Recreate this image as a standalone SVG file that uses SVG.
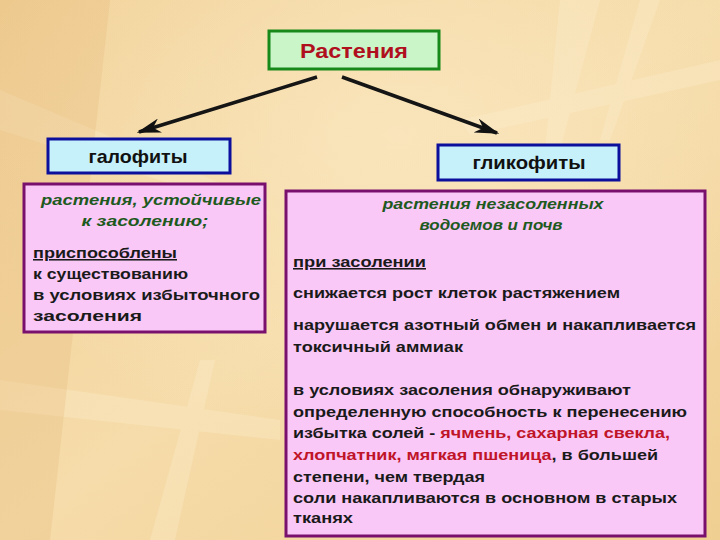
<svg xmlns="http://www.w3.org/2000/svg" width="720" height="540" viewBox="0 0 720 540">
<defs>
<linearGradient id="bg" x1="0" y1="0" x2="1" y2="1">
<stop offset="0" stop-color="#f1d197"/>
<stop offset="0.5" stop-color="#f6dcaa"/>
<stop offset="1" stop-color="#f0cf92"/>
</linearGradient>
<radialGradient id="glow" cx="0.55" cy="0.25" r="0.6">
<stop offset="0" stop-color="#fbe9c4" stop-opacity="0.7"/>
<stop offset="1" stop-color="#fbe9c4" stop-opacity="0"/>
</radialGradient>
<marker id="ah" viewBox="0 0 20 12" refX="18" refY="6" markerWidth="7" markerHeight="4.2" orient="auto" markerUnits="strokeWidth">
<path d="M0,0 L20,6 L0,12 L6,6 Z" fill="#111"/>
</marker>
<style>
.conn{stroke:#151515;stroke-width:3.5;fill:none}
.t{font-family:"Liberation Sans",Arial,sans-serif;font-weight:bold;font-size:15.5px;fill:#1a1a1a}
.it{font-family:"Liberation Sans",Arial,sans-serif;font-weight:bold;font-style:italic;font-size:15px;fill:#1e5a1e}
.red{fill:#c01428}
.title{font-family:"Liberation Sans",Arial,sans-serif;font-weight:bold;fill:#111}
.pink{fill:#f9c8f7;stroke:#7a106e;stroke-width:3}
.blue{fill:#c6f1fa;stroke:#0b0f9c;stroke-width:3}
</style>
</defs>
<rect width="720" height="540" fill="url(#bg)"/>
<rect width="720" height="540" fill="url(#glow)"/>
<g fill="#fff6df" opacity="0.22">
<polygon points="0,90 260,200 270,215 0,130"/>
<polygon points="560,0 600,0 560,150 545,150"/>
<polygon points="640,0 660,0 610,140 600,140"/>
<polygon points="460,120 720,60 720,80 470,135"/>
<polygon points="150,540 200,360 215,360 175,540"/>
<polygon points="0,380 280,420 280,440 0,410"/>
</g>
<g fill="#e2b574" opacity="0.25">
<polygon points="0,0 110,0 50,540 0,540"/>
</g>

<g id="connectors">
<line class="conn" x1="317" y1="77" x2="139" y2="132" marker-end="url(#ah)"/>
<line class="conn" x1="342" y1="77" x2="497" y2="133" marker-end="url(#ah)"/>
</g>

<g id="plants">
<rect x="269" y="31" width="170" height="38" fill="#c9f5c9" stroke="#17891a" stroke-width="3"/>
<text class="title" x="354" y="58" font-size="21" style="fill:#b0101e" text-anchor="middle" textLength="108" lengthAdjust="spacingAndGlyphs">Растения</text>
</g>

<g id="halophytes">
<rect class="blue" x="48" y="139" width="182" height="34"/>
<text class="title" x="138" y="163" font-size="19" text-anchor="middle" textLength="99" lengthAdjust="spacingAndGlyphs">галофиты</text>
</g>

<g id="glycophytes">
<rect class="blue" x="438" y="145" width="181" height="35"/>
<text class="title" x="529" y="169" font-size="19" text-anchor="middle" textLength="113" lengthAdjust="spacingAndGlyphs">гликофиты</text>
</g>

<g id="halophytes-desc">
<rect class="pink" x="24" y="184" width="241" height="148"/>
<text class="it" x="151" y="205" text-anchor="middle" textLength="220" lengthAdjust="spacingAndGlyphs">растения, устойчивые</text>
<text class="it" x="145" y="226" text-anchor="middle" textLength="127" lengthAdjust="spacingAndGlyphs">к засолению;</text>
<text class="t" x="33" y="258" text-decoration="underline" textLength="144" lengthAdjust="spacingAndGlyphs">приспособлены</text>
<text class="t" x="33" y="279" textLength="155" lengthAdjust="spacingAndGlyphs">к существованию</text>
<text class="t" x="33" y="300" textLength="227" lengthAdjust="spacingAndGlyphs">в условиях избыточного</text>
<text class="t" x="33" y="321" textLength="109" lengthAdjust="spacingAndGlyphs">засоления</text>
</g>

<g id="glycophytes-desc">
<rect class="pink" x="286" y="191" width="419" height="345"/>
<text class="it" x="493" y="209" text-anchor="middle" textLength="221" lengthAdjust="spacingAndGlyphs">растения незасоленных</text>
<text class="it" x="491" y="230" text-anchor="middle" textLength="143" lengthAdjust="spacingAndGlyphs">водоемов и почв</text>
<text class="t" x="293" y="267" text-decoration="underline" textLength="133" lengthAdjust="spacingAndGlyphs">при засолении</text>
<text class="t" x="293" y="298" textLength="327" lengthAdjust="spacingAndGlyphs">снижается рост клеток растяжением</text>
<text class="t" x="293" y="330" textLength="403" lengthAdjust="spacingAndGlyphs">нарушается азотный обмен и накапливается</text>
<text class="t" x="293" y="352" textLength="170" lengthAdjust="spacingAndGlyphs">токсичный аммиак</text>
<text class="t" x="293" y="395" textLength="338" lengthAdjust="spacingAndGlyphs">в условиях засоления обнаруживают</text>
<text class="t" x="293" y="417" textLength="394" lengthAdjust="spacingAndGlyphs">определенную способность к перенесению</text>
<text class="t" x="293" y="438" textLength="377" lengthAdjust="spacingAndGlyphs">избытка солей - <tspan class="red">ячмень, сахарная свекла,</tspan></text>
<text class="t" x="293" y="460" textLength="365" lengthAdjust="spacingAndGlyphs"><tspan class="red">хлопчатник, мягкая пшеница</tspan>, в большей</text>
<text class="t" x="293" y="482" textLength="192" lengthAdjust="spacingAndGlyphs">степени, чем твердая</text>
<text class="t" x="293" y="503" textLength="384" lengthAdjust="spacingAndGlyphs">соли накапливаются в основном в старых</text>
<text class="t" x="293" y="523" textLength="60" lengthAdjust="spacingAndGlyphs">тканях</text>
</g>
</svg>
